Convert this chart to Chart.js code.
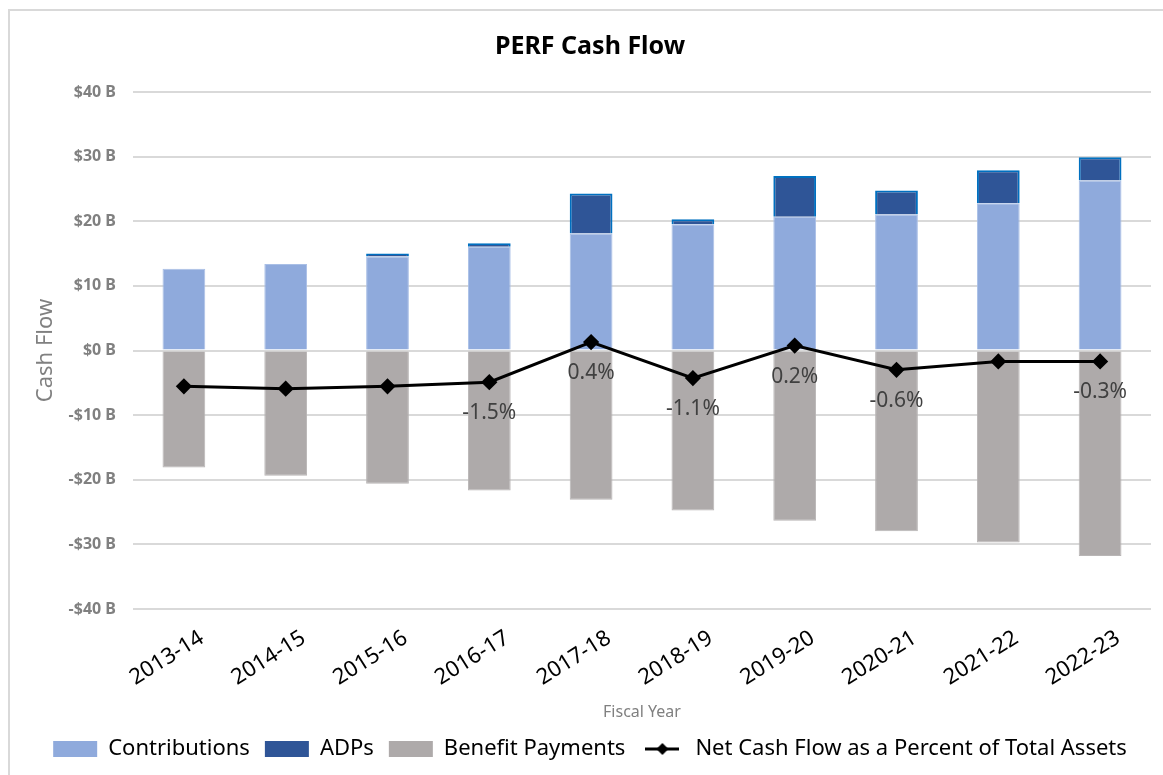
<!DOCTYPE html>
<html>
<head>
<meta charset="utf-8">
<script src="https://cdn.jsdelivr.net/npm/chart.js@4"></script>
<style>
  html, body { margin: 0; padding: 0; background: #ffffff; }
  #wrap { position: relative; width: 1163px; height: 775px; }
</style>
</head>
<body>
<div id="wrap"><canvas id="cashFlow"></canvas></div>
<script>
// fiscal years on the x axis
const fiscalYears = ["2013-14", "2014-15", "2015-16", "2016-17", "2017-18",
  "2018-19", "2019-20", "2020-21", "2021-22", "2022-23"];

// cash flow in billions
const contributions = [12.65, 13.4, 14.55, 16.05, 18.1, 19.55, 20.7, 21.05, 22.8, 26.3];
const adps = [0, 0, 0.45, 0.55, 6.2, 0.75, 6.3, 3.7, 5.1, 3.6];
const benefitPayments = [-18.1, -19.4, -20.6, -21.65, -23.1, -24.75, -26.35, -27.95, -29.7, -31.8];
const netCashFlow = [-5.55, -5.9, -5.55, -4.9, 1.3, -4.27, 0.77, -2.98, -1.7, -1.7];

// net cash flow as a percent of total assets (only the labelled points)
const netPercent = [null, null, null, -1.5, 0.4, -1.1, 0.2, -0.6, null, -0.3];

// y axis ticks
const yMin = -40;
const yMax = 40;
const yStep = 10;

const FONT = "'Noto Sans', 'Open Sans', sans-serif";

// legend icon for the line series: short line with a diamond
function lineLegendIcon() {
  const c = document.createElement("canvas");
  c.width = 34;
  c.height = 14;
  const g = c.getContext("2d");
  g.strokeStyle = "#000";
  g.lineWidth = 3;
  g.beginPath();
  g.moveTo(0, 7);
  g.lineTo(34, 7);
  g.stroke();
  g.fillStyle = "#000";
  g.beginPath();
  g.moveTo(17, 1);
  g.lineTo(23, 7);
  g.lineTo(17, 13);
  g.lineTo(11, 7);
  g.closePath();
  g.fill();
  return c;
}

// light frame round the chart, like the spreadsheet chart box
const framePlugin = {
  id: "frame",
  beforeDraw(chart) {
    const ctx = chart.ctx;
    ctx.save();
    ctx.strokeStyle = "#d9d9d9";
    ctx.lineWidth = 2;
    ctx.beginPath();
    ctx.moveTo(9, chart.height);
    ctx.lineTo(9, 10);
    ctx.lineTo(chart.width, 10);
    ctx.stroke();
    ctx.restore();
  },
};

// percent labels below the line points
const percentLabels = {
  id: "percentLabels",
  afterDatasetsDraw(chart) {
    const meta = chart.getDatasetMeta(3);
    const ctx = chart.ctx;
    ctx.save();
    ctx.font = "21px " + FONT;
    ctx.fillStyle = "#404040";
    ctx.textAlign = "center";
    ctx.textBaseline = "middle";
    meta.data.forEach((pt, i) => {
      if (netPercent[i] === null) return;
      ctx.fillText(netPercent[i].toFixed(1) + "%", pt.x, pt.y + 31);
    });
    ctx.restore();
  },
};

const lineIcon = lineLegendIcon();

new Chart(document.getElementById("cashFlow"), {
  type: "bar",
  data: {
    labels: fiscalYears,
    datasets: [
      {
        label: "Contributions",
        data: contributions,
        backgroundColor: "#8faadc",
        borderColor: "#a9bfe6",
        borderWidth: 1,
        stack: "cash",
        order: 2,
      },
      {
        label: "ADPs",
        data: adps,
        backgroundColor: "#2f5597",
        borderColor: "#0070c0",
        borderWidth: 2,
        stack: "cash",
        order: 2,
      },
      {
        label: "Benefit Payments",
        data: benefitPayments,
        backgroundColor: "#aeaaaa",
        borderColor: "#b8b5b5",
        borderWidth: 1,
        stack: "cash",
        order: 2,
      },
      {
        type: "line",
        label: "Net Cash Flow as a Percent of Total Assets",
        data: netCashFlow,
        borderColor: "#000000",
        backgroundColor: "#000000",
        borderWidth: 3,
        pointStyle: "rectRot",
        pointRadius: 6,
        pointHoverRadius: 6,
        stack: "net",
        order: 0,
      },
    ],
  },
  options: {
    responsive: true,
    maintainAspectRatio: false,
    animation: false,
    categoryPercentage: 1,
    barPercentage: 0.42,
    layout: { padding: { left: 29, right: 12, top: 24, bottom: 5 } },
    plugins: {
      title: {
        display: true,
        text: "PERF Cash Flow",
        color: "#000000",
        font: { family: FONT, size: 25, weight: "bold" },
        padding: { top: 8, bottom: 30 },
      },
      legend: {
        position: "bottom",
        labels: {
          color: "#000000",
          font: { family: FONT, size: 22 },
          usePointStyle: true,
          pointStyleWidth: 44,
          boxHeight: 16,
          padding: 15,
          generateLabels(chart) {
            return chart.data.datasets.map((ds, i) => ({
              text: ds.label,
              fillStyle: ds.backgroundColor,
              strokeStyle: ds.borderColor,
              lineWidth: 0,
              pointStyle: ds.type === "line" ? lineIcon : "rect",
              datasetIndex: i,
              hidden: false,
            }));
          },
        },
      },
      tooltip: { enabled: false },
    },
    scales: {
      x: {
        stacked: true,
        grid: { display: false },
        border: { display: false },
        ticks: {
          color: "#000000",
          font: { family: FONT, size: 22 },
          minRotation: 32,
          maxRotation: 32,
          labelOffset: 18,
          padding: 8,
        },
        title: {
          display: true,
          text: "Fiscal Year",
          color: "#808080",
          font: { family: FONT, size: 16 },
          padding: { top: 4, bottom: 1 },
        },
        afterFit(scale) {
          scale.height = 114;
        },
      },
      y: {
        stacked: true,
        min: yMin,
        max: yMax,
        grid: { color: "#d9d9d9", lineWidth: 2, drawTicks: false },
        border: { display: false },
        ticks: {
          stepSize: yStep,
          color: "#808080",
          padding: 17,
          font: { family: FONT, size: 16, weight: "bold" },
          callback: (v) => (v < 0 ? "-$" + Math.abs(v) : "$" + v) + " B",
        },
        title: {
          display: true,
          text: "Cash Flow",
          color: "#808080",
          font: { family: FONT, size: 22 },
        },
        afterFit(scale) {
          scale.width = 104;
        },
      },
    },
  },
  plugins: [framePlugin, percentLabels],
});
</script>
</body>
</html>
